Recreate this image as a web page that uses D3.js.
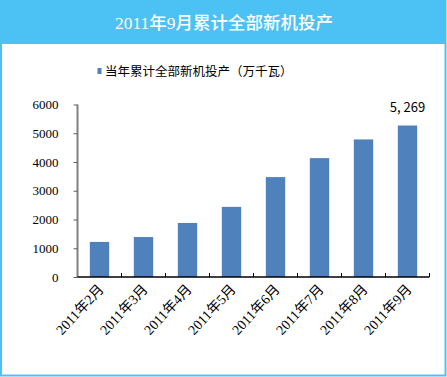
<!DOCTYPE html>
<html>
<head>
<meta charset="utf-8">
<script src="https://cdn.jsdelivr.net/npm/d3@7"></script>
<style>
  body { margin: 0; background: #fff; }
</style>
</head>
<body>
<svg id="chart"></svg>
<script>
// data
var months = ["2011年2月", "2011年3月", "2011年4月", "2011年5月", "2011年6月", "2011年7月", "2011年8月", "2011年9月"];
var values = [1220, 1390, 1880, 2440, 3475, 4135, 4785, 5269];
var yTicks = [0, 1000, 2000, 3000, 4000, 5000, 6000];
var seriesName = "当年累计全部新机投产（万千瓦）";
var titleText = "2011年9月累计全部新机投产";

var W = 447, H = 377;
var svg = d3.select("#chart").attr("width", W).attr("height", H);

// frame + title band
svg.append("rect")
    .attr("x", 1).attr("y", 1).attr("width", 444.5).attr("height", 374.5)
    .attr("fill", "#fff").attr("stroke", "#4cc2f4").attr("stroke-width", 2);
svg.append("rect")
    .attr("x", 0).attr("y", 0).attr("width", 446).attr("height", 44)
    .attr("fill", "#4cc2f4");
svg.append("text")
    .attr("x", 224).attr("y", 28.5)
    .attr("text-anchor", "middle")
    .attr("fill", "#fff")
    .style("font-family", "'Liberation Serif', 'Noto Sans CJK SC', serif")
    .style("font-size", "17.5px")
    .style("font-weight", "500")
    .text(titleText);

// legend
svg.append("rect")
    .attr("x", 97.5).attr("y", 68).attr("width", 4).attr("height", 6)
    .attr("fill", "#4f81bd");
svg.append("text")
    .attr("x", 105).attr("y", 75.5)
    .style("font-family", "'Noto Sans CJK SC', sans-serif")
    .style("font-size", "12.5px")
    .attr("fill", "#000")
    .text(seriesName);

var margin = {top: 104.5, left: 77.5},
    width = 352, height = 172.5;

var g = svg.append("g")
    .attr("transform", "translate(" + margin.left + "," + margin.top + ")");

var x = d3.scaleBand().domain(months).range([0, width]).paddingInner(0.56).paddingOuter(0.28);
var xTickScale = d3.scaleLinear().domain([0, months.length]).range([0, width]);
var y = d3.scaleLinear().domain([0, 6000]).range([height, 0]);

// bars
g.selectAll("rect.bar")
    .data(values)
    .enter()
    .append("rect")
      .attr("class", "bar")
      .attr("x", function (d, i) { return x(months[i]); })
      .attr("y", function (d) { return y(d); })
      .attr("width", x.bandwidth())
      .attr("height", function (d) { return height - y(d); })
      .attr("fill", "#4f81bd");

// y axis
var yAxis = g.append("g")
    .call(d3.axisLeft(y).tickValues(yTicks).tickSize(4).tickPadding(15).tickFormat(d3.format("d")));
yAxis.select(".domain").attr("stroke", "#808080").attr("stroke-width", 2).attr("d", "M0,0V" + height);
yAxis.selectAll(".tick line").attr("stroke", "#606060");
yAxis.selectAll(".tick text")
    .style("font-family", "'Liberation Serif', serif")
    .style("font-size", "13px")
    .attr("fill", "#000");

// x axis line + inner ticks between categories
g.append("line")
    .attr("x1", 0).attr("x2", width).attr("y1", height).attr("y2", height)
    .attr("stroke", "#000").attr("stroke-width", 1.5);
g.selectAll("line.xt")
    .data(d3.range(1, months.length + 1))
    .enter()
    .append("line")
      .attr("class", "xt")
      .attr("x1", function (d) { return xTickScale(d); })
      .attr("x2", function (d) { return xTickScale(d); })
      .attr("y1", height).attr("y2", height - 4)
      .attr("stroke", "#000");

// x labels rotated
g.selectAll("text.xl")
    .data(months)
    .enter()
    .append("text")
      .attr("class", "xl")
      .attr("text-anchor", "end")
      .attr("transform", function (d) {
          return "translate(" + (x(d) + x.bandwidth() / 2 + 5) + "," + (height + 13) + ") rotate(-47)";
      })
      .style("font-family", "'Liberation Serif', 'Noto Sans CJK SC', serif")
      .style("font-size", "14px")
      .attr("fill", "#000")
      .text(function (d) { return d; });

// label on last bar
var last = values.length - 1;
g.append("text")
    .attr("x", x(months[last]) + x.bandwidth() / 2)
    .attr("y", y(values[last]) - 14)
    .attr("text-anchor", "middle")
    .style("font-family", "'Noto Sans CJK SC', sans-serif")
    .style("font-size", "13px")
    .attr("fill", "#000")
    .text("5, 269");
</script>
</body>
</html>
